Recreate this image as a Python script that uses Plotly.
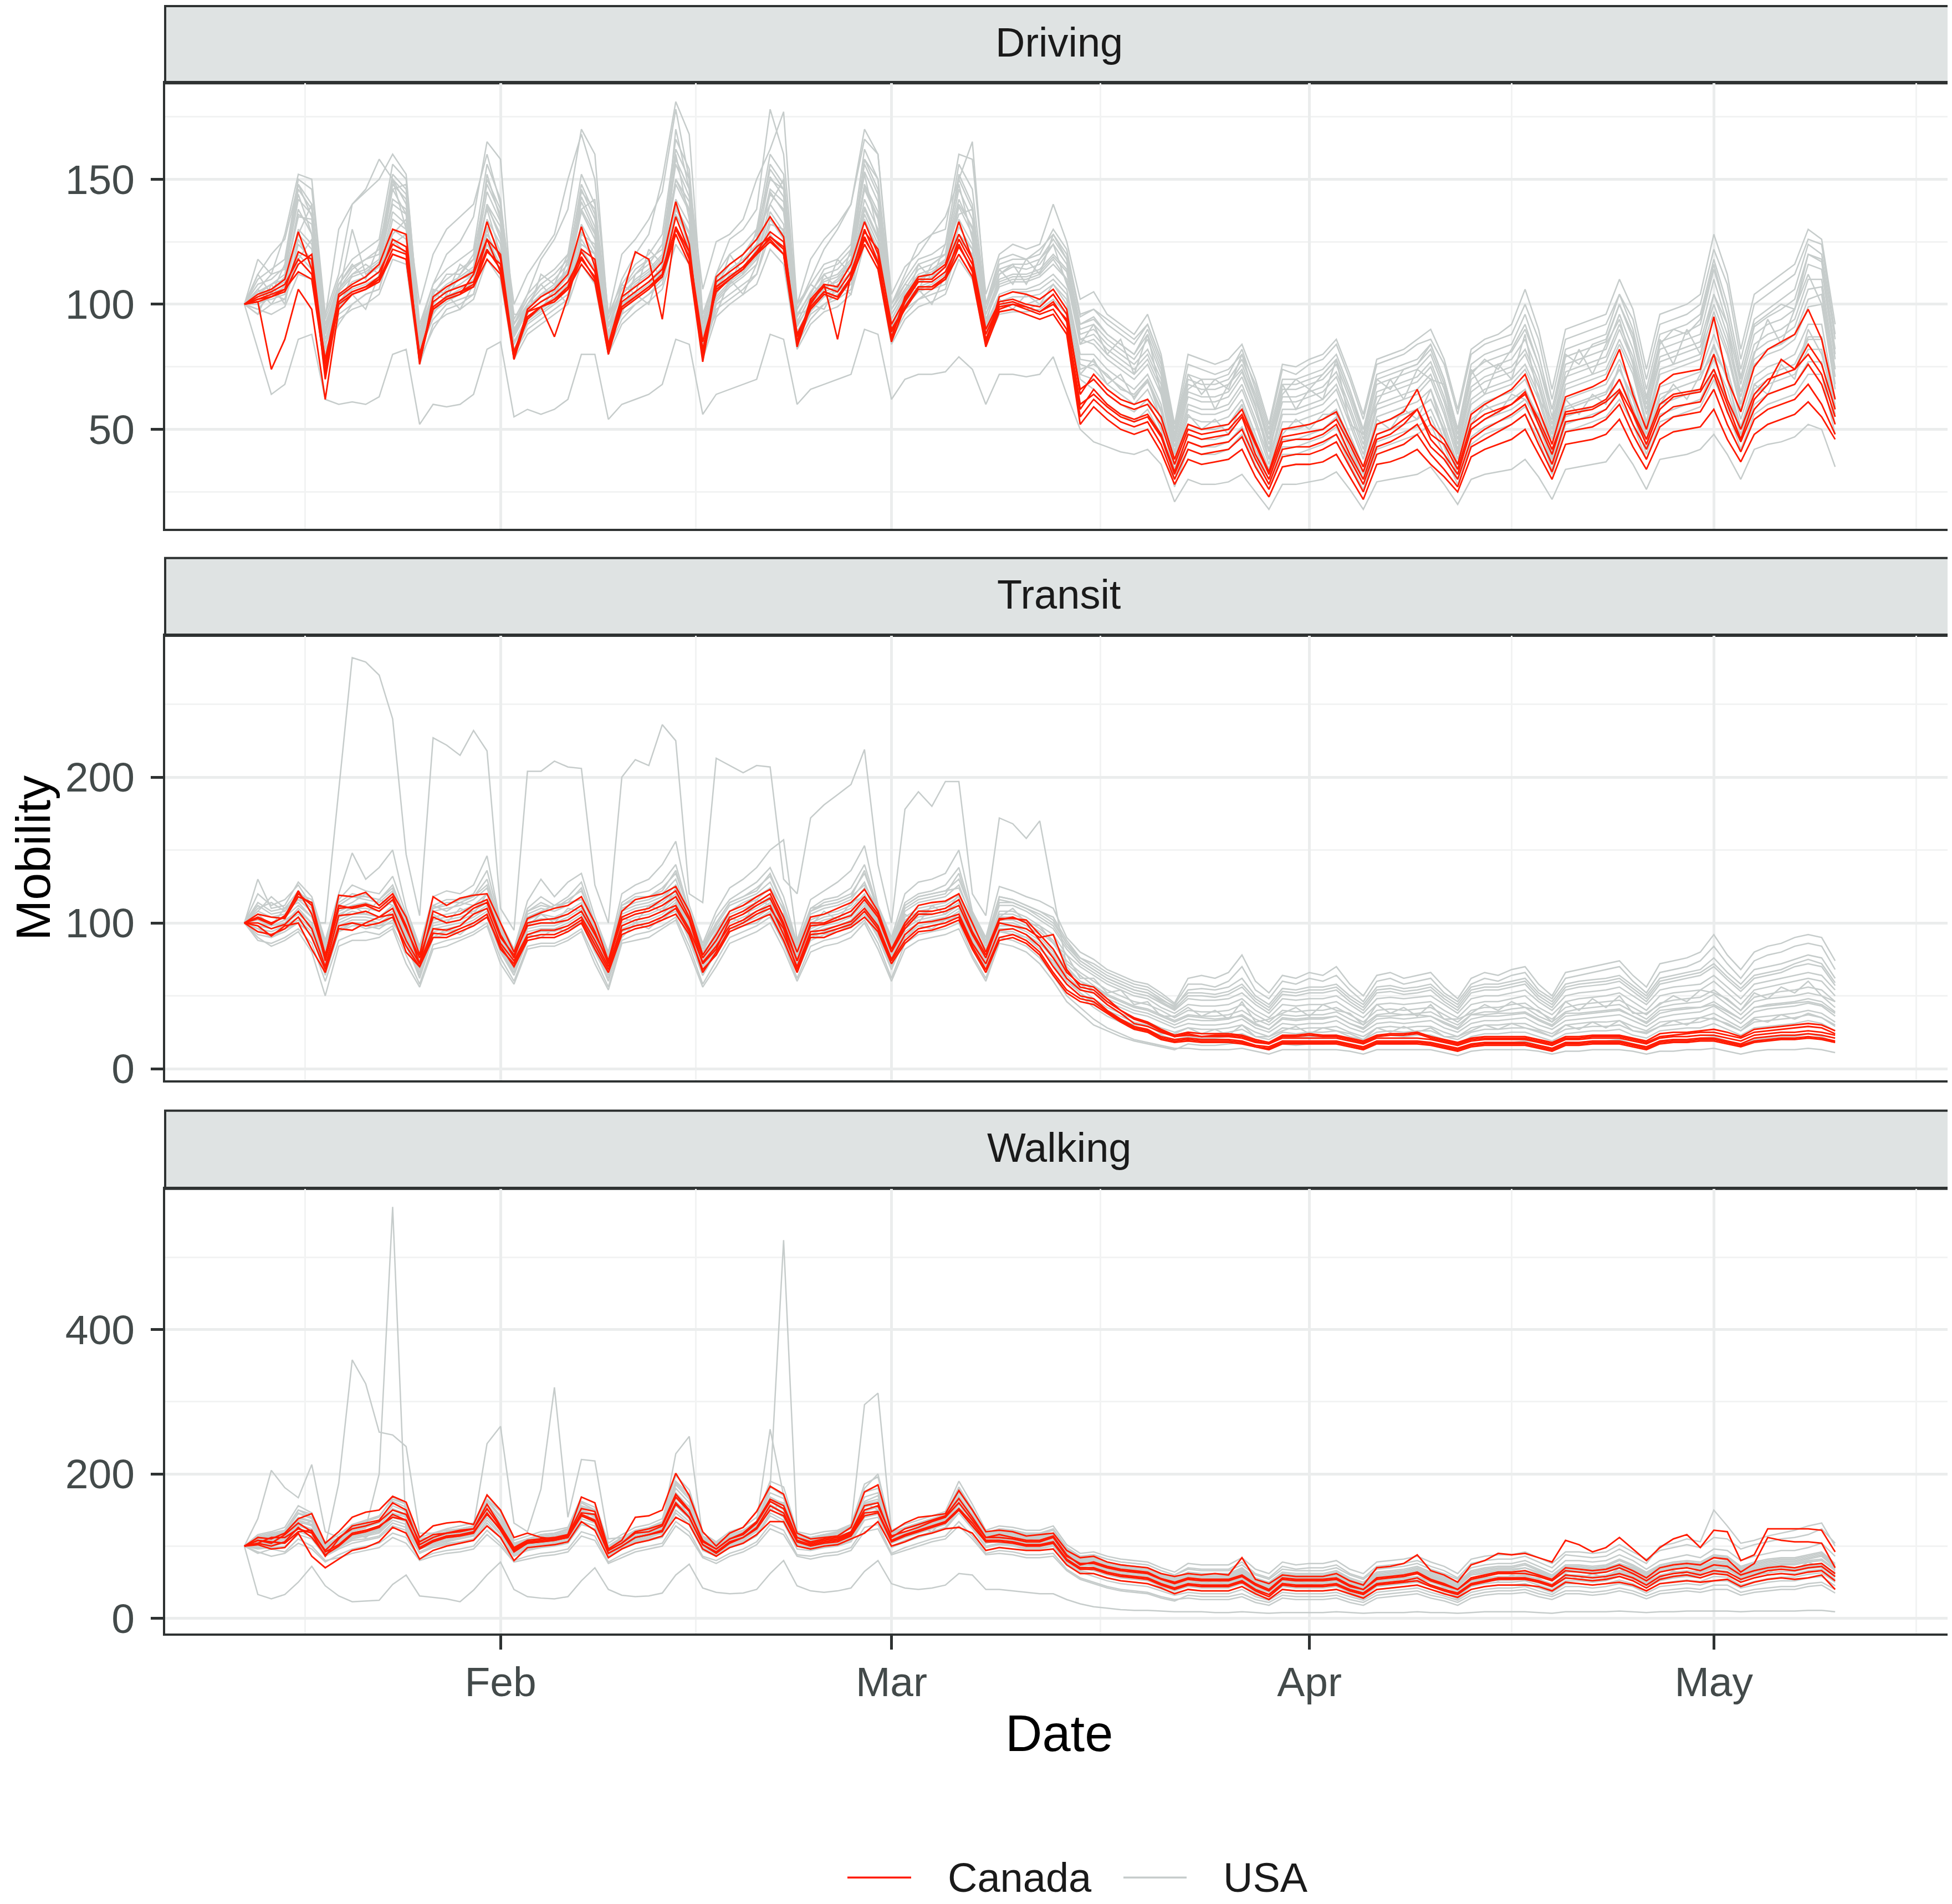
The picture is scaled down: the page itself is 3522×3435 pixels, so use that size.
import plotly.graph_objects as go
import pandas as pd

# ---------------- categories / ticks ----------------
START_DATE = "2020-01-13"
N_DAYS = 119
MODES = ["Driving", "Transit", "Walking"]
MONTH_TICKS = ["2020-02-01", "2020-03-01", "2020-04-01", "2020-05-01"]
MONTH_LABELS = ["Feb", "Mar", "Apr", "May"]
MINOR_X = ["2020-01-17 12:00", "2020-02-15 12:00", "2020-03-16 12:00", "2020-04-16", "2020-05-16"]
Y_TICKS = [[50, 100, 150], [0, 100, 200], [0, 200, 400]]
Y_MINOR = [[25, 75, 125, 175], [50, 150, 250], [100, 300, 500]]

# ---------------- Driving ----------------
DRIVING_CANADA = [
    [100,104,106,110,129,114,72, 104,108,111,116,130,128,76, 103,107,110,113,133,118,78,
     98,103,106,112,131,115,80, 103,107,111,117,141,124,78, 111,116,120,126,135,127,84,
     102,108,107,116,133,120,86, 103,111,112,116,133,118,84, 103,105,104,102,106,98,64,
     72,66,62,60,62,55,38, 52,50,51,52,58,45,33, 50,51,52,54,57,46,35,
     52,54,57,66,52,46,36, 56,60,63,66,72,58,44, 63,65,67,70,82,64,50,
     68,72,73,74,95,70,57, 75,82,85,88,98,86,62],
    [100,102,103,106,121,118,70, 101,105,107,111,126,123,80, 99,103,105,108,126,113,81,
     95,99,102,107,121,113,83, 99,103,107,112,135,121,81, 107,111,115,121,129,125,88,
     99,105,103,111,130,117,90, 99,107,107,111,126,116,88, 100,101,99,97,101,93,58,
     66,60,56,54,56,48,33, 48,46,47,48,55,40,30, 45,46,46,48,52,40,30,
     46,48,52,58,46,40,32, 50,54,57,60,65,52,40, 57,58,59,62,70,57,46,
     60,64,65,66,80,62,50, 64,70,72,74,84,76,58],
    [100,101,103,105,116,120,76, 100,104,106,110,122,120,79, 98,102,104,107,121,116,80,
     94,99,101,106,118,111,82, 98,102,106,111,131,118,82, 106,110,114,120,127,123,87,
     98,104,102,110,126,117,89, 98,106,106,110,123,114,86, 99,100,99,97,100,94,60,
     64,59,55,53,55,47,32, 45,43,44,45,50,38,28, 42,43,43,45,48,38,28,
     43,45,48,52,43,38,30, 46,50,53,56,60,48,36, 53,54,55,58,65,52,42,
     55,59,60,61,72,57,45, 58,64,66,68,76,68,52],
    [100,103,105,108,118,112,78, 103,107,109,113,124,121,77, 101,105,107,109,122,114,79,
     97,101,104,109,119,110,81, 101,105,109,114,130,119,79, 109,113,117,123,127,122,85,
     101,107,105,113,127,116,87, 101,109,109,113,124,113,85, 98,100,98,96,98,90,55,
     62,57,53,51,53,44,30, 42,40,41,42,47,35,26, 39,40,40,42,45,35,25,
     40,42,44,48,40,34,27, 43,46,49,52,56,44,33, 49,50,51,54,60,48,38,
     51,55,56,57,66,52,41, 54,58,60,62,68,60,48],
    [100,102,104,106,113,110,74, 101,105,107,110,120,118,77, 99,103,105,107,118,112,78,
     95,99,102,106,116,109,80, 99,103,107,111,128,116,77, 107,111,115,120,125,120,83,
     99,105,103,110,124,114,85, 99,107,107,110,120,111,83, 97,98,96,94,96,88,52,
     59,54,50,48,50,41,28, 38,36,37,38,42,31,23, 35,36,36,37,40,31,22,
     36,37,39,42,36,31,25, 39,42,44,46,50,40,30, 44,45,46,48,54,43,34,
     46,49,50,51,58,46,37, 48,52,54,56,61,55,46],
    [100,101,74,86,106,98,62, 98,104,106,109,120,118,80, 98,102,104,112,126,120,80,
     97,99,87,103,122,118,84, 103,121,118,94,131,121,85, 105,110,114,121,126,120,85,
     100,108,86,112,129,122,92, 102,110,110,115,128,118,90, 101,102,100,99,104,96,66,
     70,64,60,58,60,52,36, 50,48,49,50,56,44,32, 47,48,49,50,54,44,33,
     48,50,54,58,48,44,34, 52,56,58,60,64,54,42, 56,57,58,61,66,56,44,
     58,63,64,65,74,60,46, 62,68,78,74,80,72,55],
]
DRIVING_USA = [
    [100,118,112,128,152,150,96, 112,140,145,150,160,152,90, 108,120,125,135,165,158,92,
     104,118,126,138,170,160,94, 110,120,128,150,181,168,96, 112,126,130,138,178,160,98,
     110,122,130,140,166,160,100, 112,124,128,130,160,158,104, 120,124,122,124,140,125,102,
     105,96,92,88,96,80,52, 80,78,76,78,84,70,52, 76,75,78,80,86,72,56,
     78,80,82,86,90,78,58, 82,86,88,92,106,90,66, 90,92,94,96,110,98,74,
     96,98,100,104,128,112,82, 104,108,112,116,130,126,92],
    [100,108,110,115,148,140,90, 108,115,118,122,152,146,88, 105,110,114,118,150,138,90,
     100,106,110,116,148,136,92, 106,112,116,124,162,150,90, 108,116,120,126,156,148,95,
     105,112,114,120,158,146,98, 106,114,116,120,152,140,98, 112,115,114,116,124,116,90,
     92,86,82,78,86,72,45, 68,66,66,68,76,62,44, 66,66,68,70,76,62,46,
     68,70,72,74,80,66,46, 70,74,76,78,86,72,52, 76,78,80,82,96,82,60,
     82,84,86,88,110,92,68, 88,92,94,98,116,114,78],
    [100,105,108,112,142,136,90, 106,112,114,118,148,142,88, 103,108,111,115,145,133,89,
     99,104,108,114,143,131,91, 104,110,114,120,156,143,89, 107,114,118,124,151,143,93,
     103,110,112,118,153,141,96, 105,112,114,118,146,134,96, 110,112,112,114,120,114,88,
     90,84,80,76,82,70,43, 65,63,63,65,73,59,42, 63,63,65,67,73,59,44,
     65,67,69,71,77,63,44, 67,71,73,75,82,69,50, 73,75,77,79,92,79,58,
     79,81,83,85,104,88,65, 84,88,90,94,110,110,74],
    [100,103,106,109,138,128,86, 103,109,111,115,142,138,85, 101,105,108,112,139,128,87,
     97,101,105,111,137,126,89, 102,107,111,117,148,137,87, 105,111,115,121,145,137,91,
     101,107,109,115,147,135,94, 103,109,111,115,139,128,94, 107,109,109,111,116,110,84,
     86,80,76,72,78,66,40, 60,58,58,60,68,54,38, 58,58,60,62,68,54,40,
     60,62,64,66,72,58,40, 62,66,68,70,76,64,46, 68,70,72,74,86,74,53,
     74,76,78,80,97,82,60, 78,82,84,88,102,104,68],
    [100,104,105,111,135,134,89, 105,111,113,117,146,136,87, 102,107,110,114,140,131,89,
     99,103,107,113,141,129,91, 104,109,113,119,150,141,89, 107,113,117,123,146,141,93,
     103,109,111,117,148,137,96, 105,111,113,117,140,131,96, 109,111,111,113,119,113,86,
     84,78,74,70,76,64,38, 58,56,56,58,66,52,36, 56,56,58,60,66,52,38,
     58,60,62,64,70,56,38, 60,64,66,68,74,62,44, 66,68,70,72,84,72,51,
     72,74,76,78,94,80,58, 76,80,82,86,99,100,66],
    [100,102,104,107,130,124,84, 101,107,109,113,137,132,83, 99,103,106,110,134,124,85,
     95,99,103,109,132,122,87, 100,105,109,115,142,132,85, 103,109,113,119,140,132,89,
     99,105,107,113,142,130,92, 101,107,109,113,134,124,92, 104,106,106,108,112,106,80,
     80,74,70,66,72,60,36, 55,53,53,55,62,48,34, 53,53,55,57,62,48,35,
     55,57,59,61,66,52,36, 57,61,63,65,70,58,41, 62,64,66,68,78,66,48,
     67,69,71,73,88,74,54, 71,75,77,80,92,92,62],
    [100,101,102,104,124,118,80, 99,104,106,110,130,126,80, 97,101,104,108,128,118,82,
     93,97,101,106,126,117,84, 98,103,107,113,136,126,82, 101,107,111,116,134,126,86,
     97,103,105,110,136,124,89, 99,105,107,110,128,119,89, 101,103,103,104,108,102,76,
     74,68,64,60,66,54,32, 48,46,46,48,55,42,30, 46,46,48,50,55,42,30,
     48,50,52,54,58,46,32, 50,54,56,58,62,52,36, 55,57,59,61,70,59,43,
     60,62,64,66,78,66,48, 64,68,70,72,82,82,56],
    [100,98,96,99,112,110,78, 94,98,100,104,118,116,76, 92,96,98,102,118,110,78,
     88,92,96,100,116,108,80, 92,97,101,106,124,116,78, 95,100,104,108,122,116,82,
     92,97,99,104,124,114,84, 94,99,101,104,118,110,84, 96,97,97,98,102,96,70,
     66,60,56,53,58,48,27, 42,40,40,42,48,36,26, 40,40,42,44,48,36,26,
     42,44,46,48,52,40,28, 44,48,50,52,56,46,32, 49,51,53,55,62,52,38,
     53,55,57,59,70,58,42, 56,60,62,64,72,72,48],
    [100,82,64,68,86,88,62, 60,61,60,63,80,82,52, 60,59,60,64,82,85,55,
     58,56,58,62,80,80,54, 60,62,64,68,86,84,56, 64,66,68,70,88,86,60,
     66,68,70,72,90,88,62, 70,72,72,73,79,74,60, 72,72,71,72,79,64,50,
     45,43,41,40,42,36,21, 30,28,28,29,32,25,18, 28,28,29,30,33,26,18,
     29,30,31,32,35,28,20, 30,32,33,34,38,31,22, 34,35,36,37,44,36,26,
     38,39,40,42,48,40,30, 42,44,45,47,52,50,35],
    [100,112,120,126,148,135,95, 130,140,146,158,150,140,100, 120,130,135,140,160,140,100,
     112,120,128,150,168,150,96, 120,126,134,145,178,150,106, 125,128,134,150,162,177,100,
     118,126,132,140,170,160,104, 115,120,128,135,150,165,100, 118,120,118,122,128,120,95,
     98,94,90,86,92,78,50, 76,74,72,74,80,68,50, 74,72,76,78,84,70,54,
     76,78,80,84,86,76,56, 80,84,86,88,100,86,62, 86,88,90,92,104,94,70,
     92,94,96,100,122,108,78, 100,104,108,112,126,124,88],
    [100,106,100,108,128,140,92, 98,112,116,112,150,130,82, 104,102,112,118,138,120,92,
     102,108,102,118,145,138,86, 96,112,118,110,160,134,92, 110,108,120,128,140,150,96,
     98,112,106,122,152,128,100, 108,106,116,120,136,138,92, 112,116,108,118,124,108,92,
     94,88,84,80,90,76,48, 72,64,70,66,80,62,46, 64,70,66,72,78,64,50,
     70,66,74,76,84,70,50, 72,78,74,82,92,76,58, 80,76,84,86,100,88,62,
     84,90,88,94,116,96,70, 92,96,100,98,120,118,80],
    [100,98,104,102,118,126,84, 96,100,104,106,124,128,82, 94,100,102,104,126,116,80,
     92,96,100,104,124,120,84, 96,100,104,110,138,128,80, 100,104,108,112,132,130,86,
     96,100,104,108,138,126,88, 98,102,106,108,128,122,86, 100,100,100,102,106,98,74,
     76,72,66,64,70,58,34, 52,50,50,52,60,46,32, 50,50,52,54,58,46,32,
     52,54,56,58,62,50,34, 54,58,60,62,66,54,38, 58,60,62,64,74,62,44,
     62,66,68,70,84,70,50, 66,70,72,74,86,86,58],
    [100,110,114,118,150,146,94, 110,118,122,126,156,150,92, 108,114,118,122,156,142,94,
     104,110,114,120,152,140,96, 108,116,120,128,166,154,94, 112,120,124,130,160,152,98,
     108,116,118,124,162,150,100, 110,118,120,124,156,146,100, 116,118,118,120,130,122,96,
     98,92,88,84,92,78,50, 72,70,70,72,82,66,48, 70,70,72,74,80,66,50,
     72,74,76,78,84,70,50, 76,80,82,84,96,80,58, 82,84,86,88,104,90,66,
     88,90,92,96,118,100,74, 94,98,102,106,124,120,86],
    [100,104,108,110,136,132,88, 104,130,112,116,140,136,86, 100,106,110,112,140,126,88,
     98,104,106,114,138,128,88, 102,108,112,118,150,138,88, 104,112,114,122,144,138,92,
     100,106,110,116,146,134,94, 104,110,112,118,142,130,96, 108,110,110,112,118,110,86,
     88,82,78,74,80,68,41, 63,61,61,63,71,57,41, 61,61,63,65,71,57,42,
     63,65,67,69,75,61,42, 65,69,71,73,80,67,48, 71,73,75,77,90,77,56,
     77,79,81,83,100,85,63, 81,85,87,91,106,107,71],
    [100,96,100,102,120,114,82, 92,100,104,106,126,120,78, 90,98,100,104,124,114,80,
     90,94,98,102,122,114,82, 94,100,104,108,130,120,80, 98,102,106,112,128,120,84,
     94,100,102,106,130,118,86, 96,102,104,106,124,114,86, 98,100,98,100,104,96,72,
     70,64,60,57,62,50,30, 45,43,43,45,51,39,28, 43,43,45,47,51,39,28,
     45,47,49,51,55,43,30, 47,51,53,55,59,49,34, 52,54,56,58,66,56,40,
     56,58,60,62,74,62,45, 60,64,66,68,77,77,52],
    [100,112,104,116,144,128,92, 108,116,110,124,146,148,84, 106,104,116,112,152,134,96,
     96,112,108,120,138,142,88, 108,104,122,116,170,146,92, 104,120,112,130,150,146,100,
     108,104,118,112,158,150,92, 100,116,110,124,148,126,100, 114,108,118,112,128,118,84,
     92,80,86,72,88,64,46, 66,70,58,68,74,60,38, 68,58,66,62,78,52,48,
     60,70,62,74,70,68,40, 74,64,76,70,88,62,54, 70,82,72,84,94,76,52,
     86,76,90,80,104,92,60, 80,94,84,98,112,100,74],
    [100,96,108,100,126,116,86, 100,104,98,112,128,134,80, 96,104,98,108,130,112,84,
     94,98,106,100,128,124,80, 100,104,100,116,140,122,86, 96,110,104,116,134,128,84,
     100,98,108,104,134,122,90, 98,106,100,112,126,120,84, 102,98,104,100,108,100,72,
     78,68,72,62,70,54,36, 56,50,54,48,60,42,34, 48,54,50,56,56,44,30,
     54,50,58,54,66,48,36, 52,60,56,64,62,56,36, 62,56,64,60,76,58,46,
     60,68,62,72,80,72,46, 68,64,76,70,90,80,60],
    [100,106,112,114,146,138,92, 106,114,118,120,150,144,90, 104,112,112,120,148,136,92,
     100,108,112,118,146,134,94, 106,114,118,122,158,146,92, 110,116,120,128,154,146,96,
     104,114,116,122,156,144,98, 108,116,118,120,150,138,98, 114,116,116,118,126,118,92,
     95,88,84,80,88,74,47, 70,68,68,70,78,64,46, 68,68,70,72,78,64,48,
     70,72,74,76,82,68,48, 73,77,79,81,90,76,55, 79,81,83,85,100,86,63,
     85,87,89,92,114,96,71, 91,95,98,102,120,117,82],
    [100,100,103,106,128,122,83, 100,106,108,111,134,130,82, 98,102,105,109,131,121,84,
     94,98,102,108,129,120,86, 99,104,108,114,139,129,84, 102,108,112,118,137,129,88,
     98,104,106,112,139,127,91, 100,106,108,112,131,122,91, 103,105,105,106,110,104,78,
     77,71,67,63,69,57,34, 52,50,50,52,58,45,32, 50,50,52,54,58,45,33,
     52,54,56,58,62,49,34, 54,58,60,62,66,55,39, 59,61,63,65,74,63,46,
     64,66,68,70,83,70,51, 68,72,74,76,87,87,59],
]

# ---------------- Transit ----------------
TRANSIT_CANADA = [
    [100,104,100,104,122,106,76, 119,118,121,112,120,104,78, 118,112,117,119,120,100,80,
     103,107,110,112,118,100,74, 108,116,118,120,125,108,78, 92,108,112,118,123,104,80,
     104,106,110,114,123,108,82, 100,112,114,115,120,100,80, 103,103,102,92,82,66,58,
     56,48,40,35,32,27,23, 25,24,24,24,23,20,18, 23,23,24,23,23,21,19,
     23,24,24,25,22,20,18, 21,22,22,22,22,20,18, 22,22,23,23,23,21,19,
     24,25,25,26,27,25,22, 27,28,29,30,31,30,26],
    [100,100,96,99,108,96,70, 105,106,108,104,110,88,72, 96,95,98,106,110,86,74,
     92,95,95,98,104,88,70, 98,102,104,108,112,96,73, 84,98,102,108,112,92,70,
     94,95,98,101,110,98,75, 92,100,101,103,106,86,72, 95,96,92,84,70,58,50,
     48,40,34,29,27,22,20, 21,20,20,20,19,16,15, 19,19,19,19,19,17,15,
     19,19,19,19,18,16,14, 17,18,18,18,18,16,14, 18,18,19,19,19,17,15,
     19,20,20,21,21,19,17, 21,22,23,23,24,23,21],
    [100,98,91,98,100,82,66, 96,95,100,104,106,80,70, 93,92,96,100,106,82,72,
     90,92,92,96,102,85,68, 95,98,100,104,110,94,66, 80,96,100,106,110,96,68,
     92,93,96,99,108,96,74, 88,96,98,100,104,84,68, 90,92,88,80,66,54,48,
     46,39,33,28,26,21,19, 20,19,19,19,18,15,14, 18,18,18,18,18,16,14,
     18,18,18,18,17,15,13, 16,17,17,17,17,15,13, 17,17,18,18,18,16,14,
     18,19,19,20,20,18,16, 19,20,21,21,22,21,19],
    [100,106,104,103,118,114,78, 112,110,112,108,116,96,76, 104,100,102,110,114,90,78,
     98,100,100,102,108,92,74, 102,106,108,112,118,102,72, 82,102,106,112,117,98,74,
     98,99,102,105,116,104,80, 96,106,106,108,112,92,76, 102,104,100,88,76,62,54,
     52,44,38,31,29,25,22, 23,22,22,22,21,18,17, 21,21,21,21,21,19,17,
     21,21,21,21,20,18,16, 19,20,20,20,20,18,16, 20,20,21,21,21,19,17,
     21,22,22,23,23,21,19, 23,24,25,25,26,25,23],
    [100,94,92,96,104,90,68, 98,100,98,100,104,84,70, 90,90,94,98,104,84,70,
     88,90,90,94,100,82,66, 92,96,98,102,106,92,68, 78,94,98,102,106,88,66,
     90,90,94,97,104,94,72, 86,94,95,98,102,82,66, 88,90,86,78,64,52,46,
     44,38,32,27,25,20,18, 19,18,18,18,17,15,13, 17,17,17,17,17,15,13,
     17,17,17,17,16,14,12, 15,16,16,16,16,14,12, 16,16,17,17,17,15,13,
     17,18,18,19,19,17,15, 18,19,20,20,21,20,18],
    [100,103,99,105,120,112,74, 110,111,113,110,118,98,72, 108,104,106,112,116,92,76,
     100,102,103,106,112,94,72, 104,108,110,116,122,104,76, 88,104,108,114,120,100,74,
     100,100,104,108,118,106,80, 98,108,108,110,116,94,78, 100,98,96,90,92,68,56,
     54,46,40,34,31,26,22, 24,22,23,23,22,19,17, 22,22,23,22,22,20,18,
     22,23,23,24,21,19,17, 20,21,21,21,21,19,17, 21,21,22,22,22,20,18,
     22,23,24,25,25,23,21, 25,26,27,28,29,28,24],
]
TRANSIT_USA = [
    [100,96,94,98,108,100,100, 190,282,279,270,240,147,105, 227,222,215,232,218,110,95,
     204,204,211,207,206,126,100, 200,212,208,236,225,120,114, 213,208,203,208,207,130,120,
     172,181,188,195,219,140,100, 178,190,180,197,197,120,105, 172,168,158,170,120,70,60,
     56,50,46,42,40,36,32, 36,35,34,35,36,30,27, 35,34,35,35,36,31,28,
     36,36,37,37,36,32,28, 37,37,38,38,39,34,30, 38,38,39,40,41,36,32,
     40,41,42,42,44,39,34, 42,43,44,45,46,44,38],
    [100,130,110,112,128,118,88, 120,148,130,138,150,110,84, 118,122,120,126,146,100,82,
     115,130,118,128,134,104,80, 120,126,130,140,156,112,86, 108,124,130,138,150,157,88,
     116,122,128,136,153,112,90, 120,128,130,134,150,108,90, 125,122,118,115,110,90,80,
     75,68,64,60,58,52,45, 62,64,62,66,78,60,52, 64,62,66,64,70,58,50,
     64,66,62,64,66,56,48, 62,66,64,68,70,58,50, 66,68,70,72,74,64,56,
     72,74,76,80,92,78,68, 80,84,86,90,92,90,74],
    [100,112,106,108,118,110,82, 112,118,116,114,122,100,80, 108,110,112,116,124,96,78,
     106,110,108,112,118,96,76, 110,114,116,120,130,104,80, 98,112,116,120,128,108,82,
     106,110,112,116,128,106,84, 108,114,116,118,126,102,84, 112,112,108,102,96,82,72,
     66,60,56,52,50,45,40, 48,47,47,48,52,44,38, 48,47,48,48,50,44,38,
     48,49,48,49,50,44,38, 48,50,50,52,54,46,40, 50,52,53,54,56,50,44,
     54,56,57,58,64,56,48, 58,60,62,64,66,64,54],
    [100,104,100,104,112,104,78, 106,110,110,108,115,96,76, 102,104,106,110,116,92,76,
     100,103,102,106,112,92,72, 104,108,110,114,122,100,76, 92,106,110,114,120,102,78,
     100,104,106,110,120,102,80, 102,108,110,112,118,96,80, 106,106,102,96,88,74,66,
     60,54,50,46,44,40,35, 40,39,39,40,44,37,32, 40,39,40,40,42,37,32,
     40,41,40,41,42,37,32, 40,42,42,44,45,39,34, 42,44,45,46,47,42,37,
     45,47,48,49,54,47,40, 49,51,53,54,56,54,46],
    [100,100,98,102,108,100,74, 102,106,106,104,110,92,72, 98,100,102,106,112,88,72,
     96,98,98,102,108,88,70, 100,104,106,110,118,96,72, 88,102,106,110,116,98,74,
     96,100,102,106,116,98,76, 98,104,106,108,114,92,76, 102,102,98,92,82,68,60,
     54,48,44,40,38,34,30, 34,33,33,34,37,31,27, 34,33,34,34,36,31,27,
     34,35,34,35,36,31,27, 34,36,36,37,38,33,29, 36,37,38,39,40,36,31,
     38,40,41,42,46,40,34, 42,44,45,46,48,46,39],
    [100,96,94,98,104,96,70, 98,102,102,100,106,88,68, 94,96,98,102,108,84,68,
     92,94,94,98,104,84,66, 96,100,102,106,114,92,68, 84,98,102,106,112,94,70,
     92,96,98,102,112,94,72, 94,100,102,104,110,88,72, 98,98,94,88,78,64,55,
     48,42,38,34,32,28,25, 28,27,27,28,30,25,22, 28,27,28,28,29,25,22,
     28,29,28,29,29,25,22, 28,30,30,31,31,27,24, 30,31,32,32,33,29,26,
     32,33,34,35,38,33,28, 35,36,37,38,40,38,32],
    [100,92,90,94,100,92,66, 94,98,98,96,102,84,64, 90,92,94,98,104,80,64,
     88,90,90,94,100,80,62, 92,96,98,102,110,88,64, 80,94,98,102,108,90,66,
     88,92,94,98,108,90,68, 90,96,98,100,106,84,68, 94,94,90,84,72,58,50,
     42,36,32,28,26,23,20, 22,21,21,22,24,20,18, 22,21,22,22,23,20,18,
     22,23,22,23,23,20,17, 22,24,24,25,25,22,19, 24,25,26,26,27,23,21,
     26,27,28,28,31,27,23, 28,29,30,31,33,31,26],
    [100,88,86,90,96,86,60, 88,92,94,92,98,78,58, 85,88,90,94,100,76,60,
     84,86,86,90,96,76,56, 88,92,94,98,104,84,58, 74,90,94,98,104,86,62,
     84,88,90,94,102,86,62, 86,92,94,96,100,78,62, 90,88,84,76,64,50,42,
     34,28,24,20,18,16,14, 14,13,13,13,14,12,10, 13,13,13,13,13,12,10,
     13,13,13,13,13,11,9, 12,13,13,13,13,12,10, 12,12,13,13,13,12,10,
     12,12,13,13,14,12,10, 12,13,13,13,14,13,11],
    [100,90,84,88,94,80,50, 84,88,88,90,96,72,56, 82,84,88,92,98,72,58,
     82,84,84,88,94,72,54, 86,88,90,96,102,80,56, 70,86,90,94,100,82,60,
     80,84,86,90,100,82,60, 82,88,90,92,96,76,60, 86,84,80,72,60,46,38,
     30,26,22,19,17,15,13, 17,16,16,17,18,15,13, 17,16,17,17,18,15,13,
     17,17,17,18,18,15,13, 17,18,18,18,19,16,14, 18,18,19,19,20,17,15,
     19,20,20,21,22,19,16, 20,21,22,22,24,22,18],
    [100,108,118,110,116,114,84, 110,114,120,112,118,106,82, 112,108,114,112,120,98,80,
     104,108,112,114,116,100,78, 108,112,114,118,126,106,82, 96,108,114,118,124,110,84,
     110,112,114,118,126,110,86, 112,118,120,122,124,104,86, 118,116,112,108,104,88,76,
     70,64,60,56,54,48,42, 54,55,54,56,62,50,44, 55,54,56,56,58,50,44,
     56,57,55,56,58,50,44, 56,58,58,60,62,52,46, 58,60,61,62,64,57,50,
     62,64,66,68,76,66,58, 68,70,72,75,78,76,62],
    [100,108,104,106,116,108,80, 108,112,114,110,118,98,78, 104,106,108,112,120,94,76,
     102,106,104,108,114,94,74, 106,110,112,116,126,102,78, 94,108,112,116,124,104,80,
     102,106,108,112,124,104,82, 104,110,112,114,120,98,82, 108,108,104,98,92,78,70,
     64,58,54,50,48,42,38, 44,43,43,44,48,40,35, 44,43,44,44,46,40,35,
     44,45,44,45,46,40,35, 44,46,46,48,50,42,37, 46,48,49,50,52,46,40,
     50,52,53,54,60,52,44, 54,56,58,60,62,60,50],
    [100,120,112,116,126,112,84, 116,126,122,120,132,106,82, 112,116,116,120,136,100,80,
     110,118,112,118,128,100,78, 114,120,122,128,140,108,84, 104,116,122,128,138,118,86,
     110,116,118,124,140,110,88, 114,120,122,126,138,106,88, 118,116,112,108,102,86,76,
     72,66,62,58,56,50,44, 58,58,56,60,70,54,48, 60,58,62,60,64,54,46,
     60,62,58,60,62,52,46, 58,62,60,64,66,54,48, 62,64,66,68,70,60,52,
     66,68,70,74,84,72,62, 74,78,80,84,86,84,68],
    [100,98,96,100,106,98,72, 100,104,104,102,108,90,70, 96,98,100,104,110,86,70,
     94,96,96,100,106,86,68, 98,102,104,108,116,94,70, 86,100,104,108,114,96,72,
     94,98,100,104,114,96,74, 96,102,104,106,112,90,74, 100,100,96,90,80,66,58,
     52,46,42,38,36,32,28, 31,30,30,31,34,28,25, 31,30,31,31,33,28,25,
     31,32,31,32,33,28,25, 31,33,33,34,35,30,27, 33,34,35,36,37,33,29,
     35,37,38,39,43,37,31, 39,41,42,43,45,43,36],
    [100,94,92,96,102,94,68, 96,100,100,98,104,86,66, 92,94,96,100,106,82,66,
     90,92,92,96,102,82,64, 94,98,100,104,112,90,66, 82,96,100,104,110,92,68,
     90,94,96,100,110,92,70, 92,98,100,102,108,86,70, 96,96,92,86,76,62,52,
     45,40,36,32,30,26,23, 25,24,24,25,27,22,20, 25,24,25,25,26,22,20,
     25,26,25,26,26,22,20, 25,27,27,28,28,25,22, 27,28,29,29,30,26,24,
     29,30,31,32,35,30,26, 32,33,34,35,37,35,29],
    [100,110,114,108,120,116,86, 112,118,118,116,124,104,84, 110,112,116,118,126,100,82,
     108,112,110,116,122,100,80, 112,116,118,124,134,108,84, 100,114,118,124,132,112,86,
     108,114,116,120,134,110,88, 112,118,120,122,130,106,88, 116,114,110,106,100,86,74,
     68,62,58,54,52,46,41, 50,50,49,51,56,46,40, 51,50,52,52,54,46,40,
     52,53,51,52,54,46,40, 52,54,54,56,58,48,42, 54,56,57,58,60,53,46,
     58,60,62,64,70,61,53, 62,64,66,70,72,70,57],
    [100,106,98,110,114,104,78, 104,112,106,116,112,100,72, 106,100,110,106,120,90,80,
     98,106,100,110,108,98,70, 104,100,112,108,124,98,80, 90,104,100,116,112,106,74,
     98,108,102,114,118,100,84, 106,100,112,106,120,92,78, 104,110,100,98,86,78,62,
     62,52,54,44,46,36,36, 42,36,40,34,46,32,34, 38,42,36,44,40,38,30,
     44,38,42,36,44,34,34, 38,44,40,46,42,40,32, 46,40,48,42,50,38,38,
     44,50,46,54,52,48,40, 52,48,56,52,60,50,46],
    [100,102,98,100,110,100,76, 104,108,106,104,112,94,74, 100,102,104,108,114,90,74,
     98,100,100,104,110,90,72, 102,106,108,112,120,98,74, 90,104,108,112,118,100,76,
     98,102,104,108,118,100,78, 100,106,108,110,116,94,78, 104,104,100,94,86,72,64,
     57,51,47,43,41,37,33, 37,36,36,37,40,34,30, 37,36,37,37,39,34,30,
     37,38,37,38,39,34,30, 37,39,39,41,42,36,32, 39,41,42,43,44,39,34,
     42,44,45,46,51,44,37, 46,48,49,50,52,50,42],
    [100,114,108,110,122,112,84, 114,120,118,116,126,102,82, 110,114,114,118,130,98,80,
     108,114,110,114,124,98,78, 112,118,118,122,136,106,82, 100,114,118,122,134,112,84,
     108,112,114,118,136,108,86, 110,116,118,120,134,104,86, 114,114,110,104,98,84,74,
     68,62,58,54,52,47,43, 52,52,51,53,58,48,42, 53,52,54,54,56,48,42,
     54,55,53,54,56,48,42, 54,56,56,58,60,50,44, 56,58,59,60,62,55,48,
     60,62,64,66,72,63,55, 64,66,68,72,75,72,59],
    [100,96,90,96,100,92,64, 94,100,96,98,100,86,62, 90,96,92,100,104,80,66,
     92,90,96,94,102,82,60, 90,100,96,104,108,90,64, 80,96,98,100,108,86,66,
     92,90,96,98,106,90,70, 90,98,96,102,104,84,66, 94,92,90,82,74,60,52,
     46,40,34,30,30,24,24, 28,24,27,23,30,22,22, 26,29,24,28,26,24,20,
     28,25,29,25,28,22,22, 26,30,27,31,28,26,22, 30,27,32,28,33,26,25,
     29,33,30,35,34,31,26, 34,32,37,34,38,35,30],
]

# ---------------- Walking ----------------
WALKING_CANADA = [
    [100,112,110,118,138,145,104, 120,140,147,150,169,161,112, 128,132,134,130,171,150,112,
     118,112,110,116,168,160,96, 108,140,142,150,201,170,120, 100,118,126,148,183,172,118,
     110,112,114,126,175,185,120, 132,140,142,145,177,150,120, 122,120,114,116,118,94,84,
     86,78,74,72,70,62,58, 62,60,62,60,84,54,48, 60,58,58,58,62,52,46,
     70,72,76,88,66,60,50, 74,80,90,88,90,84,78, 108,102,92,98,112,96,80,
     98,110,116,98,122,120,80, 88,124,124,124,124,122,92],
    [100,104,112,112,124,118,86, 110,128,132,136,160,150,102, 112,118,122,124,158,128,98,
     108,110,112,116,152,148,94, 104,120,124,130,172,150,106, 96,110,118,134,165,156,112,
     106,110,112,120,156,160,112, 124,130,136,142,166,140,112, 116,112,108,108,114,88,74,
     78,72,68,66,64,55,50, 56,54,54,54,60,48,40, 56,54,54,54,56,46,40,
     56,58,60,64,54,48,40, 56,60,64,64,66,60,54, 70,68,66,68,74,66,56,
     70,74,76,74,84,82,64, 76,112,108,106,106,104,70],
    [100,104,100,106,126,112,88, 100,116,120,126,144,136,96, 106,112,114,118,146,122,92,
     104,106,108,112,144,136,90, 100,112,116,122,160,140,102, 92,106,112,126,156,146,108,
     102,106,108,116,146,148,108, 116,122,128,134,152,132,108, 108,106,102,102,106,82,70,
     70,64,60,58,56,48,42, 48,46,46,46,52,40,33, 48,46,46,46,48,40,35,
     48,50,52,56,46,40,35, 48,52,56,56,56,52,46, 60,58,56,58,62,56,46,
     58,62,64,60,66,64,54, 60,66,68,66,70,72,58],
    [100,108,106,104,120,122,92, 102,118,122,128,140,136,98, 108,114,116,120,144,124,94,
     104,106,108,112,142,134,90, 100,112,116,120,158,140,102, 90,104,112,124,150,142,106,
     100,104,106,114,142,146,106, 114,120,126,132,150,128,106, 106,104,100,100,104,80,68,
     68,62,58,56,54,46,40, 46,44,44,44,50,38,30, 46,44,44,44,46,38,33,
     46,48,50,52,44,38,33, 46,50,54,54,54,50,44, 56,54,52,54,58,52,42,
     54,58,60,56,62,60,50, 56,60,62,60,64,66,52],
    [100,102,96,98,118,86,70, 82,94,98,106,126,118,82, 94,100,104,108,128,112,80,
     98,100,102,106,134,122,84, 96,104,108,114,140,130,96, 86,98,104,116,134,134,100,
     96,100,102,110,118,134,100, 106,114,118,124,126,118,94, 98,96,94,94,96,74,62,
     62,56,52,50,48,42,34, 40,38,38,38,44,34,26, 40,38,38,38,40,34,28,
     40,42,44,46,40,34,29, 40,44,46,46,46,44,38, 50,48,46,48,50,46,38,
     48,50,52,50,52,54,44, 50,54,56,54,56,60,40],
    [100,108,104,116,132,120,94, 112,124,128,134,150,144,106, 116,118,120,124,152,126,96,
     106,108,110,114,146,144,94, 104,118,120,128,168,148,108, 96,110,116,132,162,152,112,
     104,108,110,118,150,156,114, 120,126,134,140,160,136,112, 112,110,106,106,112,86,76,
     76,70,66,64,62,54,48, 54,52,52,52,58,46,38, 54,52,52,52,54,44,40,
     54,56,58,62,52,46,40, 54,58,62,62,62,58,52, 66,64,62,64,70,62,52,
     64,68,70,66,74,72,60, 66,70,72,70,74,76,62],
]
WALKING_USA = [
    [100,110,112,118,140,135,100, 110,120,125,200,570,115,105, 112,118,120,124,150,132,100,
     108,112,114,118,150,140,96, 110,118,120,128,170,155,110, 100,112,118,130,165,160,112,
     108,112,114,120,160,165,114, 120,126,132,138,165,142,114, 118,116,112,112,116,92,80,
     80,74,70,68,66,58,52, 58,56,56,56,62,50,44, 58,56,56,56,58,50,44,
     58,60,62,64,58,52,44, 60,62,64,64,66,60,54, 66,66,64,66,72,66,56,
     66,70,72,70,78,76,64, 70,74,76,76,80,82,68],
    [100,114,118,122,150,140,102, 112,126,130,136,160,150,108, 114,120,124,128,162,140,104,
     110,116,118,122,160,150,100, 112,120,124,132,185,165,114, 102,116,122,134,180,524,116,
     112,116,118,126,175,180,118, 124,130,136,142,180,150,118, 122,120,116,116,122,96,84,
     84,78,74,72,70,62,56, 64,62,62,62,70,56,50, 64,62,62,62,66,56,50,
     64,66,68,72,64,58,50, 66,70,72,72,76,68,60, 74,74,72,74,82,74,64,
     74,78,80,78,88,86,72, 78,82,84,84,88,92,76],
    [100,112,115,120,145,138,100, 187,358,325,258,254,238,118, 118,122,124,128,242,266,132,
     120,179,320,140,220,218,110, 112,120,124,130,228,252,112, 104,116,122,134,262,170,116,
     110,116,120,128,296,312,120, 124,128,134,140,175,148,116, 120,118,114,114,118,94,82,
     82,76,72,70,68,60,54, 60,58,58,58,66,52,46, 60,58,58,58,62,52,46,
     60,62,64,68,60,54,46, 62,66,68,68,70,64,56, 70,70,68,70,76,70,60,
     70,74,76,74,84,80,68, 74,78,80,80,84,88,72],
    [100,138,205,181,167,213,120, 112,130,136,142,165,158,110, 114,124,128,132,165,148,104,
     110,116,118,124,160,150,100, 112,122,126,134,190,172,114, 104,116,122,134,182,170,118,
     112,116,118,126,180,200,120, 126,132,138,144,176,150,118, 124,122,118,118,124,98,86,
     88,82,78,76,74,66,60, 70,68,68,68,78,62,56, 72,68,70,70,74,62,56,
     72,74,76,80,72,66,56, 76,80,82,82,86,78,70, 88,86,84,86,96,86,76,
     100,104,110,106,150,128,104, 108,114,118,122,128,132,100],
    [100,108,110,114,136,130,98, 108,118,122,128,150,142,104, 110,114,118,122,152,130,98,
     106,110,112,116,150,144,96, 108,116,120,126,170,150,108, 98,110,116,128,165,152,110,
     106,110,112,118,158,162,112, 120,126,132,138,166,140,112, 116,114,110,110,114,90,78,
     78,72,68,66,64,56,50, 56,54,54,54,60,48,42, 56,54,54,54,56,48,42,
     56,58,60,62,56,50,42, 56,60,62,62,64,58,52, 64,64,62,64,70,64,54,
     64,68,70,68,76,74,62, 68,72,74,74,78,80,66],
    [100,104,106,110,130,124,94, 104,114,118,122,142,136,100, 106,110,114,118,146,124,94,
     102,106,108,112,144,138,92, 104,112,116,122,162,144,104, 94,106,112,124,158,146,106,
     102,106,108,114,150,156,108, 116,122,128,134,160,136,108, 112,110,106,106,110,86,74,
     72,66,62,60,58,50,44, 50,48,48,48,54,42,36, 50,48,48,48,50,42,36,
     50,52,54,56,50,44,36, 50,54,56,56,58,52,46, 58,58,56,58,64,58,48,
     58,62,64,62,70,68,56, 62,66,68,68,72,74,60],
    [100,100,102,106,124,118,90, 100,110,114,118,136,130,96, 102,106,110,114,140,118,90,
     98,102,104,108,138,132,88, 100,108,112,118,156,138,100, 90,102,108,120,152,140,102,
     98,102,104,110,144,150,104, 112,118,124,130,154,130,104, 108,106,102,102,106,82,70,
     66,60,56,54,52,44,38, 44,42,42,42,48,36,30, 44,42,42,42,44,36,30,
     44,46,48,50,44,38,30, 44,48,50,50,52,46,40, 52,52,50,52,58,52,42,
     52,56,58,56,64,62,50, 56,60,62,62,66,68,54],
    [100,96,98,100,116,110,86, 96,104,108,112,128,122,90, 98,102,104,108,132,112,86,
     94,98,100,104,130,124,84, 96,104,108,112,146,130,94, 86,98,104,114,142,132,96,
     94,98,100,106,136,140,98, 106,112,118,124,146,124,98, 102,100,96,96,100,76,64,
     58,52,48,46,44,38,32, 36,34,34,34,40,30,25, 36,34,34,34,36,30,25,
     36,38,40,42,36,31,25, 36,40,42,42,44,38,33, 44,44,42,44,48,44,35,
     44,46,48,46,52,52,42, 46,50,52,52,56,58,45],
    [100,33,27,33,50,72,45, 31,23,24,25,47,60,31, 29,27,23,39,60,78,40,
     30,28,27,30,52,70,40, 32,30,31,35,60,75,42, 36,34,35,40,62,80,45,
     38,36,38,42,65,80,48, 42,40,42,46,62,60,40, 40,38,36,34,34,26,20,
     16,14,12,11,11,10,9, 9,9,8,8,9,8,7, 8,8,8,8,9,8,7,
     8,8,8,9,8,8,7, 8,9,9,9,9,8,7, 9,9,9,9,10,9,8,
     9,9,10,10,10,10,9, 10,10,10,10,11,11,9],
    [100,92,86,90,104,96,78, 88,96,100,104,118,112,82, 90,94,96,100,122,104,80,
     86,90,92,96,120,114,78, 88,96,100,104,134,120,86, 80,90,96,106,130,122,88,
     86,90,92,98,126,130,90, 98,104,110,114,134,114,90, 94,92,88,88,90,68,56,
     50,44,40,38,36,30,26, 28,26,26,26,30,22,18, 28,26,26,26,28,22,18,
     28,30,32,34,28,24,18, 28,32,34,34,36,30,26, 34,34,32,34,38,34,27,
     34,36,38,36,40,40,32, 36,38,40,40,44,46,35],
    [100,106,108,112,134,128,96, 106,116,120,124,146,140,102, 108,112,116,120,150,128,96,
     104,108,110,114,148,142,94, 106,114,118,124,166,148,106, 96,108,114,126,162,150,108,
     104,108,110,116,154,160,110, 118,124,130,136,164,138,110, 114,112,108,108,112,88,76,
     74,68,64,62,60,52,46, 52,50,50,50,56,44,38, 52,50,50,50,52,44,38,
     52,54,56,58,52,46,38, 52,56,58,58,60,54,48, 60,60,58,60,66,60,50,
     60,64,66,64,72,70,58, 64,68,70,70,74,76,62],
    [100,116,120,126,156,146,104, 116,130,134,140,168,158,112, 118,124,128,132,170,148,108,
     114,120,122,126,168,160,104, 116,126,130,138,198,178,118, 106,120,126,140,190,182,120,
     116,120,122,130,186,196,122, 130,136,142,148,190,158,122, 128,126,122,122,128,102,90,
     92,86,82,80,78,70,64, 76,74,74,74,84,68,62, 78,74,76,76,80,68,62,
     78,80,82,86,78,72,62, 82,86,88,88,92,84,76, 92,92,90,92,102,92,82,
     94,98,102,98,112,110,96, 102,106,110,112,116,124,104],
    [100,102,104,108,128,122,92, 102,112,116,120,140,134,98, 104,108,112,116,144,122,92,
     100,104,106,110,142,136,90, 102,110,114,120,160,142,102, 92,104,110,122,156,144,104,
     100,104,106,112,148,154,106, 114,120,126,132,158,134,106, 110,108,104,104,108,84,72,
     69,63,59,57,55,47,41, 47,45,45,45,51,39,33, 47,45,45,45,47,39,33,
     47,49,51,53,47,41,33, 47,51,53,53,55,49,43, 55,55,53,55,61,55,45,
     55,59,61,59,67,65,53, 59,63,65,65,69,71,57],
    [100,90,96,92,110,100,80, 84,90,94,98,112,104,80, 86,90,92,96,116,100,78,
     82,86,88,92,114,108,76, 84,92,96,100,128,114,84, 76,86,92,102,124,116,86,
     82,86,88,94,120,124,88, 94,100,106,110,128,110,88, 90,88,84,84,86,66,54,
     48,42,38,36,34,28,24, 32,30,30,30,34,26,22, 32,30,30,30,32,26,22,
     32,34,36,38,32,28,22, 32,36,38,38,40,34,30, 38,38,36,38,42,38,31,
     38,40,42,40,46,46,36, 40,42,44,44,48,50,40],
    [100,110,114,118,146,140,100, 110,122,126,132,156,148,106, 112,116,120,124,158,136,102,
     108,112,114,118,156,150,98, 110,118,122,130,180,160,112, 100,114,120,132,174,166,114,
     110,114,116,124,168,174,116, 124,130,136,142,174,148,116, 120,118,114,114,118,94,84,
     84,78,74,72,70,62,56, 62,60,60,60,68,54,48, 62,60,60,60,64,54,48,
     62,64,66,70,62,56,48, 64,68,70,70,74,66,58, 72,72,70,72,80,72,62,
     72,76,78,76,86,84,70, 76,80,82,82,86,90,74],
    [100,108,102,114,130,134,96, 102,118,112,126,140,146,96, 110,106,118,114,150,128,102,
     100,112,104,118,140,146,90, 108,106,120,116,172,140,110, 92,112,106,128,150,160,104,
     106,102,114,110,160,150,114, 112,126,120,138,152,142,104, 116,108,112,104,116,84,80,
     72,70,60,64,56,54,42, 56,46,54,44,58,40,40, 48,54,46,54,48,46,34,
     54,48,58,52,56,42,40, 48,58,52,60,56,56,44, 62,54,62,56,70,54,52,
     56,66,60,68,68,74,52, 66,62,74,66,78,70,64],
    [100,112,116,120,150,144,102, 112,124,128,134,162,154,108, 114,118,122,126,164,142,104,
     110,114,116,120,162,154,100, 112,120,124,132,188,168,114, 102,116,122,134,182,172,116,
     112,116,118,126,176,184,118, 126,132,138,144,182,152,118, 124,122,118,118,122,98,86,
     88,82,78,76,74,66,60, 68,66,66,66,74,60,54, 68,66,66,66,70,60,54,
     68,70,72,76,68,62,54, 70,74,76,76,80,72,64, 80,80,78,80,88,80,68,
     80,84,88,84,96,94,80, 86,90,94,94,98,104,86],
    [100,98,100,104,120,114,88, 98,108,110,114,132,126,92, 100,104,106,110,136,116,88,
     96,100,102,106,134,128,86, 98,106,110,114,150,134,98, 88,100,106,116,146,136,100,
     96,100,102,108,140,144,100, 108,114,120,126,150,126,100, 104,102,98,98,102,78,66,
     62,56,52,50,48,41,35, 40,38,38,38,44,33,27, 40,38,38,38,40,33,27,
     40,42,44,46,40,35,27, 40,44,46,46,48,42,36, 48,48,46,48,53,48,38,
     48,51,53,51,58,57,46, 51,55,57,57,61,63,50],
    [100,106,110,114,138,134,98, 106,118,122,128,152,144,104, 108,112,116,122,156,132,100,
     104,108,112,116,154,148,96, 106,114,118,126,174,154,108, 98,112,118,130,168,158,112,
     106,112,114,120,162,170,114, 120,126,132,140,170,144,114, 118,116,112,112,116,92,80,
     80,74,70,68,66,58,52, 58,56,56,56,64,50,44, 58,56,56,56,60,50,44,
     58,60,62,66,58,52,44, 60,64,66,66,70,62,54, 68,68,66,68,76,68,58,
     68,72,74,72,80,78,66, 72,76,78,78,82,86,70],
]

# ---------------- styling constants ----------------
W, H = 3522, 3435
CANADA_COLOR = "#FF1A00"
USA_COLOR = "#C6CCCB"
GRID_MAJOR = "#EBEDED"
GRID_MINOR = "#F2F3F3"
BORDER = "#2E3232"
STRIP_FILL = "#DFE3E3"
FONT = "Liberation Sans, Arial, Helvetica, sans-serif"
TICK_FONT = dict(family=FONT, size=75, color="#434A4A")

PANEL_X = (290, 3517)
PANELS_Y = [(143, 952), (1146, 1953), (2150, 2957)]
STRIPS_Y = [(3, 143), (1005, 1146), (2008, 2150)]
Y_RANGES = [[10.2, 188.4], [-8, 297], [-21, 595]]
X_RANGE = ["2020-01-07 03:00", "2020-05-18 19:00"]


def px_x(v):
    return v / W


def px_y(v):
    return 1 - v / H


dates = pd.date_range(START_DATE, periods=N_DAYS, freq="D")

groups = [
    (DRIVING_USA, DRIVING_CANADA),
    (TRANSIT_USA, TRANSIT_CANADA),
    (WALKING_USA, WALKING_CANADA),
]

fig = go.Figure()
for i, (usa, can) in enumerate(groups, start=1):
    xa = "x" if i == 1 else f"x{i}"
    ya = "y" if i == 1 else f"y{i}"
    for s in usa:
        if len(s) != N_DAYS:
            raise ValueError(f"panel {i} USA series has {len(s)} values")
        fig.add_trace(go.Scatter(x=dates, y=s, mode="lines", xaxis=xa, yaxis=ya,
                                 line=dict(color=USA_COLOR, width=2.5),
                                 hoverinfo="skip", showlegend=False))
    for s in can:
        if len(s) != N_DAYS:
            raise ValueError(f"panel {i} Canada series has {len(s)} values")
        fig.add_trace(go.Scatter(x=dates, y=s, mode="lines", xaxis=xa, yaxis=ya,
                                 line=dict(color=CANADA_COLOR, width=2.8),
                                 hoverinfo="skip", showlegend=False))

layout = dict(
    width=W, height=H, margin=dict(l=0, r=0, t=0, b=0),
    paper_bgcolor="white", plot_bgcolor="white", showlegend=False,
    font=dict(family=FONT),
)
shapes = []
annotations = []
for i in range(3):
    suffix = "" if i == 0 else str(i + 1)
    top, bottom = PANELS_Y[i]
    bottom_panel = (i == 2)
    layout["xaxis" + suffix] = dict(
        domain=[px_x(PANEL_X[0]), px_x(PANEL_X[1])],
        anchor="y" + suffix, range=X_RANGE, type="date",
        tickmode="array", tickvals=MONTH_TICKS, ticktext=MONTH_LABELS,
        showticklabels=bottom_panel, ticks="outside" if bottom_panel else "",
        ticklen=25, tickwidth=5, tickcolor=BORDER, tickfont=TICK_FONT,
        ticklabelstandoff=-6,
        showgrid=True, gridcolor=GRID_MAJOR, gridwidth=5,
        minor=dict(tickmode="array", tickvals=MINOR_X, showgrid=True,
                   gridcolor=GRID_MINOR, gridwidth=2.5, ticks=""),
        showline=True, mirror=True, linecolor=BORDER, linewidth=4,
        zeroline=False,
    )
    if i > 0:
        layout["xaxis" + suffix]["matches"] = "x"
    layout["yaxis" + suffix] = dict(
        domain=[px_y(bottom), px_y(top)], anchor="x" + suffix,
        range=Y_RANGES[i], tickmode="array", tickvals=Y_TICKS[i],
        ticks="outside", ticklen=22, tickwidth=5, tickcolor=BORDER,
        tickfont=TICK_FONT, ticklabelstandoff=14,
        showgrid=True, gridcolor=GRID_MAJOR, gridwidth=5,
        minor=dict(tickmode="array", tickvals=Y_MINOR[i], showgrid=True,
                   gridcolor=GRID_MINOR, gridwidth=2.5, ticks=""),
        showline=True, mirror=True, linecolor=BORDER, linewidth=4,
        zeroline=False,
    )
    s0, s1 = STRIPS_Y[i]
    shapes.append(dict(type="rect", xref="paper", yref="paper",
                       x0=px_x(PANEL_X[0]), x1=px_x(PANEL_X[1]),
                       y0=px_y(s1), y1=px_y(s0),
                       fillcolor=STRIP_FILL, line=dict(color=BORDER, width=4),
                       layer="below"))
    annotations.append(dict(text=MODES[i], xref="paper", yref="paper",
                            x=px_x((PANEL_X[0] + PANEL_X[1]) / 2), y=px_y((s0 + s1) / 2 - 4),
                            xanchor="center", yanchor="middle", showarrow=False,
                            font=dict(family=FONT, size=74, color="#1A1A1A")))

# axis titles
annotations.append(dict(text="Date", xref="paper", yref="paper",
                        x=px_x((PANEL_X[0] + PANEL_X[1]) / 2), y=px_y(3138),
                        xanchor="center", yanchor="middle", showarrow=False,
                        font=dict(family=FONT, size=92, color="black")))
annotations.append(dict(text="Mobility", xref="paper", yref="paper",
                        x=0, y=px_y(1550), textangle=-90,
                        xanchor="left", yanchor="middle", showarrow=False,
                        font=dict(family=FONT, size=88, color="black")))

# legend (drawn manually to match long key lines)
LEGEND_Y = 3400
legend_items = [("Canada", CANADA_COLOR, 1521, 1636, 1700), ("USA", USA_COLOR, 2019, 2133, 2197)]
for label, color, lx0, lx1, tx in legend_items:
    shapes.append(dict(type="line", xref="paper", yref="paper",
                       x0=px_x(lx0), x1=px_x(lx1), y0=px_y(LEGEND_Y), y1=px_y(LEGEND_Y),
                       line=dict(color=color, width=3.5)))
    annotations.append(dict(text=label, xref="paper", yref="paper",
                            x=px_x(tx), y=px_y(LEGEND_Y), xanchor="left", yanchor="middle",
                            showarrow=False, font=dict(family=FONT, size=74, color="#1A1A1A")))

layout["shapes"] = shapes
layout["annotations"] = annotations
fig.update_layout(**layout)
fig.write_html("out.html")
